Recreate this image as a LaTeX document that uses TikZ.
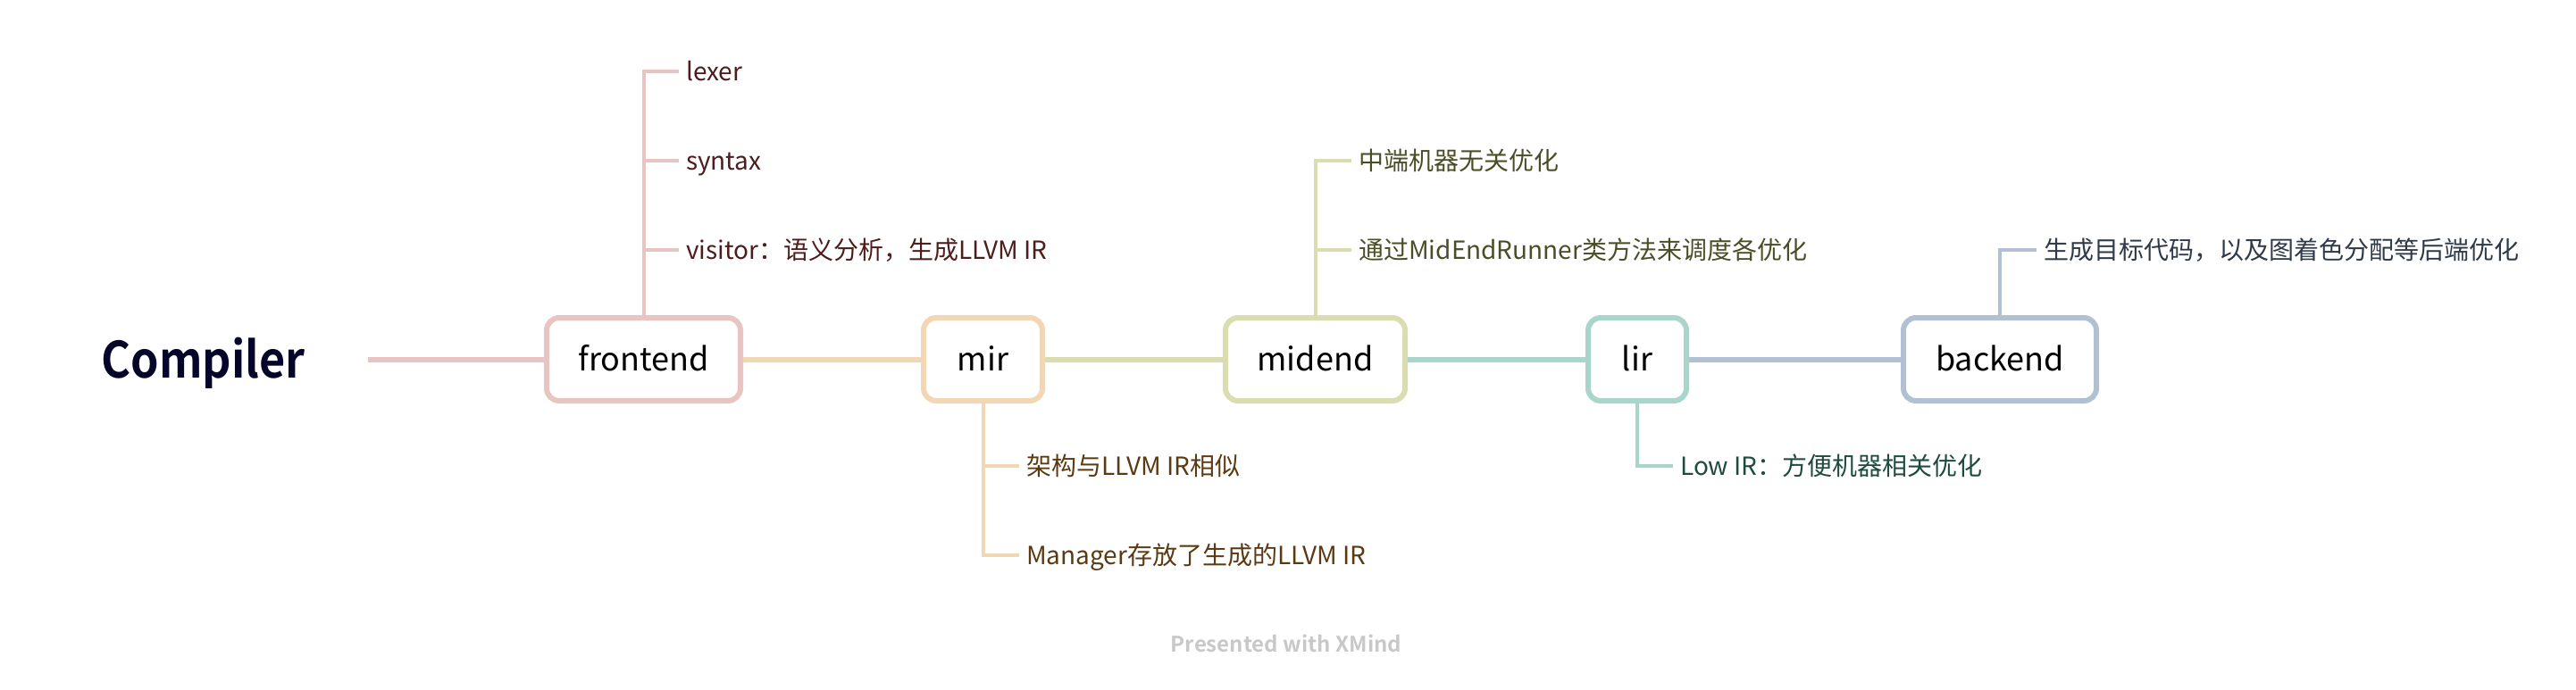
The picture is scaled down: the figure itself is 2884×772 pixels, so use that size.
\documentclass[tikz,border=0pt]{standalone}
\usepackage{fontspec}
\setmainfont{Noto Sans CJK SC}[BoldFont=Noto Sans CJK SC Bold]
\newfontfamily\rootfont{Noto Sans CJK SC Bold}[FakeStretch=0.9]
\definecolor{pinkline}{HTML}{E8C4C2}
\definecolor{orangeline}{HTML}{F3D7B5}
\definecolor{greenline}{HTML}{D9DDB0}
\definecolor{tealline}{HTML}{A9D5CB}
\definecolor{blueline}{HTML}{B1C0D2}
\definecolor{fetext}{HTML}{4E1C1C}
\definecolor{mirtext}{HTML}{5B3A12}
\definecolor{midtext}{HTML}{4B4D27}
\definecolor{lirtext}{HTML}{1E4A3F}
\definecolor{betext}{HTML}{2F3A48}
\definecolor{roottext}{HTML}{05052A}
\definecolor{marktext}{HTML}{C8C8C8}
\begin{document}
\begin{tikzpicture}[x=1pt,y=-1pt,
  topic/.style={draw, line width=6pt, rounded corners=14pt, fill=white,
    minimum height=93pt, inner sep=0pt, text=black,
    font=\fontsize{36}{40}\selectfont, text height=29.5pt, text depth=4.3pt},
  leaf/.style={anchor=west, inner xsep=8pt, inner ysep=0pt,
    font=\fontsize{28}{32}\selectfont, text height=24.6pt, text depth=3.4pt},
  mainline/.style={line width=6pt},
  branch/.style={line width=4pt, line join=miter}]
\useasboundingbox (0,0) rectangle (2884,772);

% root
\node[anchor=east, inner xsep=70pt, inner ysep=0pt, text=roottext,
  font=\rootfont\fontsize{56}{60}\selectfont, text height=41pt, text depth=0pt]
  (root) at (412,402.5) {Compiler};

% main topics
\node[topic, draw=pinkline,   minimum width=217pt] (fe)  at (720.5,402.5)  {frontend};
\node[topic, draw=orangeline, minimum width=133pt] (mir) at (1100.5,402.5) {mir};
\node[topic, draw=greenline,  minimum width=201pt] (mid) at (1472.5,402.5) {midend};
\node[topic, draw=tealline,   minimum width=110pt] (lir) at (1833,402.5)   {lir};
\node[topic, draw=blueline,   minimum width=216pt] (be)  at (2239,402.5)   {backend};

% main connectors
\draw[mainline, pinkline]   (root.east) -- (fe.west);
\draw[mainline, orangeline] (fe.east)   -- (mir.west);
\draw[mainline, greenline]  (mir.east)  -- (mid.west);
\draw[mainline, tealline]   (mid.east)  -- (lir.west);
\draw[mainline, blueline]   (lir.east)  -- (be.west);

% frontend children
\node[leaf, text=fetext] (fe1) at (760,80)  {lexer};
\node[leaf, text=fetext] (fe2) at (760,180) {syntax};
\node[leaf, text=fetext] (fe3) at (760,280) {visitor：语义分析，生成LLVM IR};
\draw[branch, pinkline] (fe.north) |- (fe1.west);
\draw[branch, pinkline] (fe.north) |- (fe2.west);
\draw[branch, pinkline] (fe.north) |- (fe3.west);

% mir children
\node[leaf, text=mirtext] (mir1) at (1141,522) {架构与LLVM IR相似};
\node[leaf, text=mirtext] (mir2) at (1141,622) {Manager存放了生成的LLVM IR};
\draw[branch, orangeline] (mir.south) |- (mir1.west);
\draw[branch, orangeline] (mir.south) |- (mir2.west);

% midend children
\node[leaf, text=midtext] (mid1) at (1513,180) {中端机器无关优化};
\node[leaf, text=midtext] (mid2) at (1513,280) {通过MidEndRunner类方法来调度各优化};
\draw[branch, greenline] (mid.north) |- (mid1.west);
\draw[branch, greenline] (mid.north) |- (mid2.west);

% lir child
\node[leaf, text=lirtext] (lir1) at (1873,522) {Low IR：方便机器相关优化};
\draw[branch, tealline] (lir.south) |- (lir1.west);

% backend child
\node[leaf, text=betext] (be1) at (2280,280) {生成目标代码，以及图着色分配等后端优化};
\draw[branch, blueline] (be.north) |- (be1.west);

% watermark
\node[text=marktext, font=\bfseries\fontsize{24}{28}\selectfont] (mark) at (1440,721) {Presented with XMind};
\end{tikzpicture}
\end{document}
